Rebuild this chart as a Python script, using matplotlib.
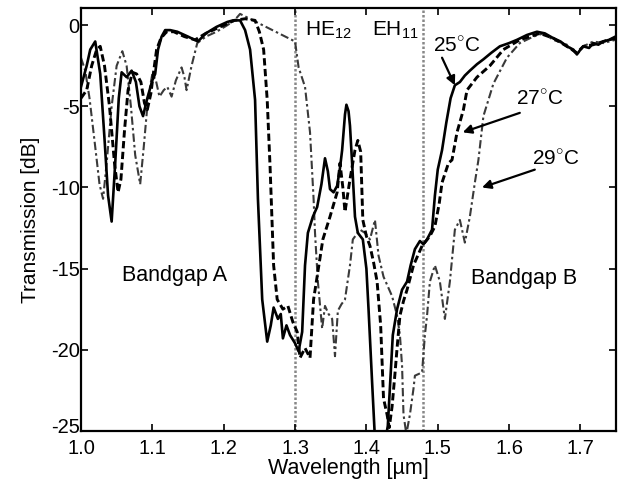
import matplotlib
matplotlib.use('Agg')
import matplotlib.pyplot as plt
from matplotlib.transforms import ScaledTranslation

plt.rcParams['font.family'] = ['Liberation Sans', 'DejaVu Sans']
plt.rcParams['mathtext.fontset'] = 'custom'
plt.rcParams['mathtext.rm'] = 'Liberation Sans'

# 25 C (solid)
wl_25 = [1.000, 1.008, 1.013, 1.020, 1.027, 1.033, 1.038, 1.043, 1.048, 1.053, 1.057, 1.064,
         1.071, 1.077, 1.082, 1.087, 1.093, 1.100, 1.104, 1.108, 1.113, 1.118, 1.125, 1.135,
         1.150, 1.164, 1.175, 1.190, 1.205, 1.213, 1.223, 1.230, 1.237, 1.244, 1.248, 1.254,
         1.261, 1.266, 1.270, 1.276, 1.280, 1.283, 1.288, 1.293, 1.300, 1.305, 1.310, 1.314,
         1.318, 1.325, 1.331, 1.337, 1.342, 1.346, 1.349, 1.354, 1.359, 1.363, 1.366, 1.370,
         1.372, 1.375, 1.377, 1.380, 1.384, 1.388, 1.395, 1.400, 1.403, 1.408, 1.412, 1.418,
         1.425, 1.430, 1.434, 1.437, 1.443, 1.450, 1.457, 1.462, 1.468, 1.475, 1.480, 1.485,
         1.492, 1.496, 1.500, 1.506, 1.512, 1.518, 1.524, 1.531, 1.538, 1.545, 1.555, 1.564,
         1.575, 1.587, 1.600, 1.611, 1.625, 1.639, 1.650, 1.662, 1.672, 1.681, 1.690, 1.695,
         1.700, 1.704, 1.712, 1.718, 1.725, 1.732, 1.740, 1.749]
tr_25 = [-3.8, -2.5, -1.5, -1.0, -3.0, -7.0, -10.5, -12.1, -8.5, -4.5, -2.9, -3.2,
         -2.8, -3.5, -5.0, -5.6, -4.5, -3.4, -3.0, -1.5, -0.7, -0.3, -0.3, -0.4,
         -0.7, -1.0, -0.5, -0.1, 0.2, 0.3, 0.3, -0.3, -1.5, -4.6, -10.7, -16.9,
         -19.5, -18.5, -17.4, -18.1, -17.8, -19.3, -18.5, -19.1, -19.6, -20.1, -18.9, -14.8,
         -12.8, -11.8, -11.2, -9.8, -8.2, -9.0, -10.1, -10.3, -9.9, -8.8, -7.7, -5.5,
         -4.9, -5.3, -6.2, -8.5, -11.8, -12.8, -13.2, -15.0, -17.5, -22.0, -25.5, -27.0,
         -26.0, -24.7, -21.5, -19.1, -17.5, -16.3, -15.8, -14.8, -13.8, -13.3, -13.5, -13.2,
         -12.6, -10.5, -8.9, -7.7, -6.0, -4.5, -3.7, -3.5, -3.1, -2.8, -2.4, -2.1,
         -1.7, -1.3, -1.1, -0.9, -0.6, -0.4, -0.5, -0.8, -1.0, -1.3, -1.5, -1.8,
         -1.5, -1.3, -1.4, -1.1, -1.2, -1.0, -0.9, -0.7]

# 27 C (dashed)
wl_27 = [1.000, 1.008, 1.015, 1.022, 1.027, 1.033, 1.040, 1.047, 1.052, 1.056, 1.061, 1.066,
         1.072, 1.078, 1.084, 1.089, 1.093, 1.098, 1.102, 1.106, 1.112, 1.120, 1.130, 1.145,
         1.160, 1.175, 1.195, 1.215, 1.230, 1.244, 1.250, 1.256, 1.261, 1.265, 1.270, 1.275,
         1.283, 1.290, 1.297, 1.303, 1.307, 1.314, 1.321, 1.326, 1.332, 1.339, 1.349, 1.359,
         1.363, 1.367, 1.370, 1.377, 1.384, 1.388, 1.392, 1.395, 1.400, 1.405, 1.410, 1.415,
         1.420, 1.424, 1.429, 1.432, 1.436, 1.440, 1.443, 1.447, 1.452, 1.457, 1.466, 1.478,
         1.489, 1.496, 1.502, 1.506, 1.515, 1.520, 1.527, 1.536, 1.541, 1.548, 1.555, 1.573,
         1.592, 1.615, 1.643, 1.662, 1.681, 1.695, 1.704, 1.718, 1.732, 1.749]
tr_27 = [-4.5, -4.0, -2.5, -1.5, -1.3, -2.5, -5.0, -8.5, -10.3, -9.5, -6.5, -4.0,
         -2.9, -3.0, -3.5, -4.8, -5.2, -4.2, -2.8, -1.5, -0.8, -0.4, -0.4, -0.7,
         -0.9, -0.5, -0.1, 0.3, 0.4, 0.3, -0.4, -1.5, -4.6, -8.7, -14.8, -16.9,
         -17.5, -17.3, -18.3, -18.9, -20.5, -19.9, -20.5, -16.9, -15.2, -13.2, -11.8, -10.3,
         -8.5, -10.0, -11.5, -9.5, -7.7, -7.1, -7.8, -12.0, -13.0, -13.6, -14.6, -15.8,
         -18.5, -23.0, -24.0, -24.8, -23.5, -21.5, -19.9, -17.9, -17.0, -16.3, -14.8, -13.6,
         -13.0, -12.4, -11.0, -9.7, -8.5, -8.3, -6.6, -5.2, -4.0, -3.6, -3.2, -2.5,
         -1.5, -0.9, -0.5, -0.8, -1.3, -1.7, -1.3, -1.2, -1.0, -0.8]

# 29 C (dash-dot)
wl_29 = [1.000, 1.006, 1.012, 1.020, 1.026, 1.031, 1.036, 1.043, 1.050, 1.058, 1.064, 1.070,
         1.076, 1.083, 1.088, 1.094, 1.100, 1.105, 1.110, 1.116, 1.121, 1.127, 1.133, 1.141,
         1.145, 1.148, 1.155, 1.163, 1.175, 1.190, 1.205, 1.215, 1.223, 1.300, 1.305, 1.314,
         1.321, 1.326, 1.328, 1.332, 1.338, 1.342, 1.347, 1.352, 1.356, 1.360, 1.365, 1.370,
         1.377, 1.381, 1.391, 1.398, 1.405, 1.412, 1.417, 1.424, 1.436, 1.443, 1.447, 1.450,
         1.452, 1.456, 1.461, 1.466, 1.468, 1.478, 1.482, 1.485, 1.489, 1.496, 1.503, 1.510,
         1.517, 1.524, 1.531, 1.538, 1.545, 1.552, 1.557, 1.564, 1.578, 1.597, 1.615, 1.634,
         1.648, 1.662, 1.681, 1.695, 1.704, 1.718, 1.732, 1.749]
tr_29 = [-2.0, -2.8, -4.5, -7.5, -9.8, -10.7, -8.5, -5.0, -2.5, -1.6, -2.5, -5.0,
         -8.0, -9.8, -7.5, -4.5, -3.0, -3.4, -4.4, -4.0, -3.8, -4.4, -3.4, -2.6,
         -3.2, -4.0, -2.5, -1.1, -0.7, -0.4, 0.0, 0.3, 0.7, -1.0, -2.6, -3.8,
         -6.6, -10.7, -12.8, -15.8, -18.7, -17.3, -17.8, -18.1, -20.4, -17.6, -17.2, -16.9,
         -14.8, -13.2, -12.6, -12.8, -13.2, -12.0, -14.2, -15.5, -16.7, -17.9, -19.1, -21.0,
         -24.0, -25.2, -24.0, -22.4, -21.6, -21.4, -19.1, -17.9, -15.8, -14.8, -15.8, -18.1,
         -15.8, -12.6, -12.0, -13.4, -11.8, -9.7, -8.3, -5.6, -3.6, -2.0, -1.1, -0.7,
         -0.5, -0.9, -1.2, -1.8, -1.3, -1.0, -1.1, -0.9]

mode_lines = [1.30, 1.48]

fig = plt.figure(figsize=(6.18, 4.83), dpi=100)
ax = fig.add_axes([0.131, 0.108, 0.866, 0.875])

for xv in mode_lines:
    ax.axvline(xv, color='#888888', lw=1.8, ls=(0, (1, 0.8)), zorder=1)

ax.plot(wl_29, tr_29, color='#3a3a3a', lw=1.5, ls=(0, (4, 1.5, 1.2, 1.5)), zorder=2)
ax.plot(wl_27, tr_27, color='black', lw=2.1, ls=(0, (2.5, 1.2)), zorder=3)
ax.plot(wl_25, tr_25, color='black', lw=1.9, ls='-', zorder=4)

ax.set_xlim(1.0, 1.75)
ax.set_ylim(-25, 1.05)
ax.set_xticks([1.0, 1.1, 1.2, 1.3, 1.4, 1.5, 1.6, 1.7])
ax.set_xticklabels(['1.0', '1.1', '1.2', '1.3', '1.4', '1.5', '1.6', '1.7'])
ax.set_yticks([-25, -20, -15, -10, -5, 0])
ax.set_yticklabels(['-25', '-20', '-15', '-10', '-5', '0'])
ax.tick_params(direction='in', top=True, right=True, length=5, width=1.2,
               labelsize=14.5)
ax.tick_params(axis='x', pad=6)
ax.tick_params(axis='y', pad=1)
for sp in ax.spines.values():
    sp.set_linewidth(1.6)

# lift the bottom y label a little so it does not sit on "1.0"
lab = ax.yaxis.get_major_ticks()[0].label1
lab.set_transform(lab.get_transform() + ScaledTranslation(0, 4 / 72, fig.dpi_scale_trans))

ax.set_xlabel('Wavelength [\u00b5m]', fontsize=15.5, labelpad=0)
ax.set_ylabel('Transmission [dB]', fontsize=15, labelpad=8)

ax.text(1.314, -0.3, 'HE$_{12}$', fontsize=15, va='center', ha='left')
ax.text(1.408, -0.3, 'EH$_{11}$', fontsize=15, va='center', ha='left')
ax.text(1.131, -15.45, 'Bandgap A', fontsize=15.5, va='center', ha='center')
ax.text(1.621, -15.6, 'Bandgap B', fontsize=15.5, va='center', ha='center')

arrow = dict(arrowstyle='-|>', color='black', lw=1.6, mutation_scale=13,
             shrinkA=0, shrinkB=0)
ax.annotate('', xy=(1.524, -3.7), xytext=(1.506, -2.0), arrowprops=arrow)
ax.annotate('', xy=(1.535, -6.6), xytext=(1.615, -5.4), arrowprops=arrow)
ax.annotate('', xy=(1.562, -10.0), xytext=(1.636, -8.9), arrowprops=arrow)
ax.text(1.527, -1.23, '25$^{\\circ}$C', fontsize=15, va='center', ha='center')
ax.text(1.643, -4.5, '27$^{\\circ}$C', fontsize=15, va='center', ha='center')
ax.text(1.665, -8.2, '29$^{\\circ}$C', fontsize=15, va='center', ha='center')

fig.savefig('out.png', dpi=100)
